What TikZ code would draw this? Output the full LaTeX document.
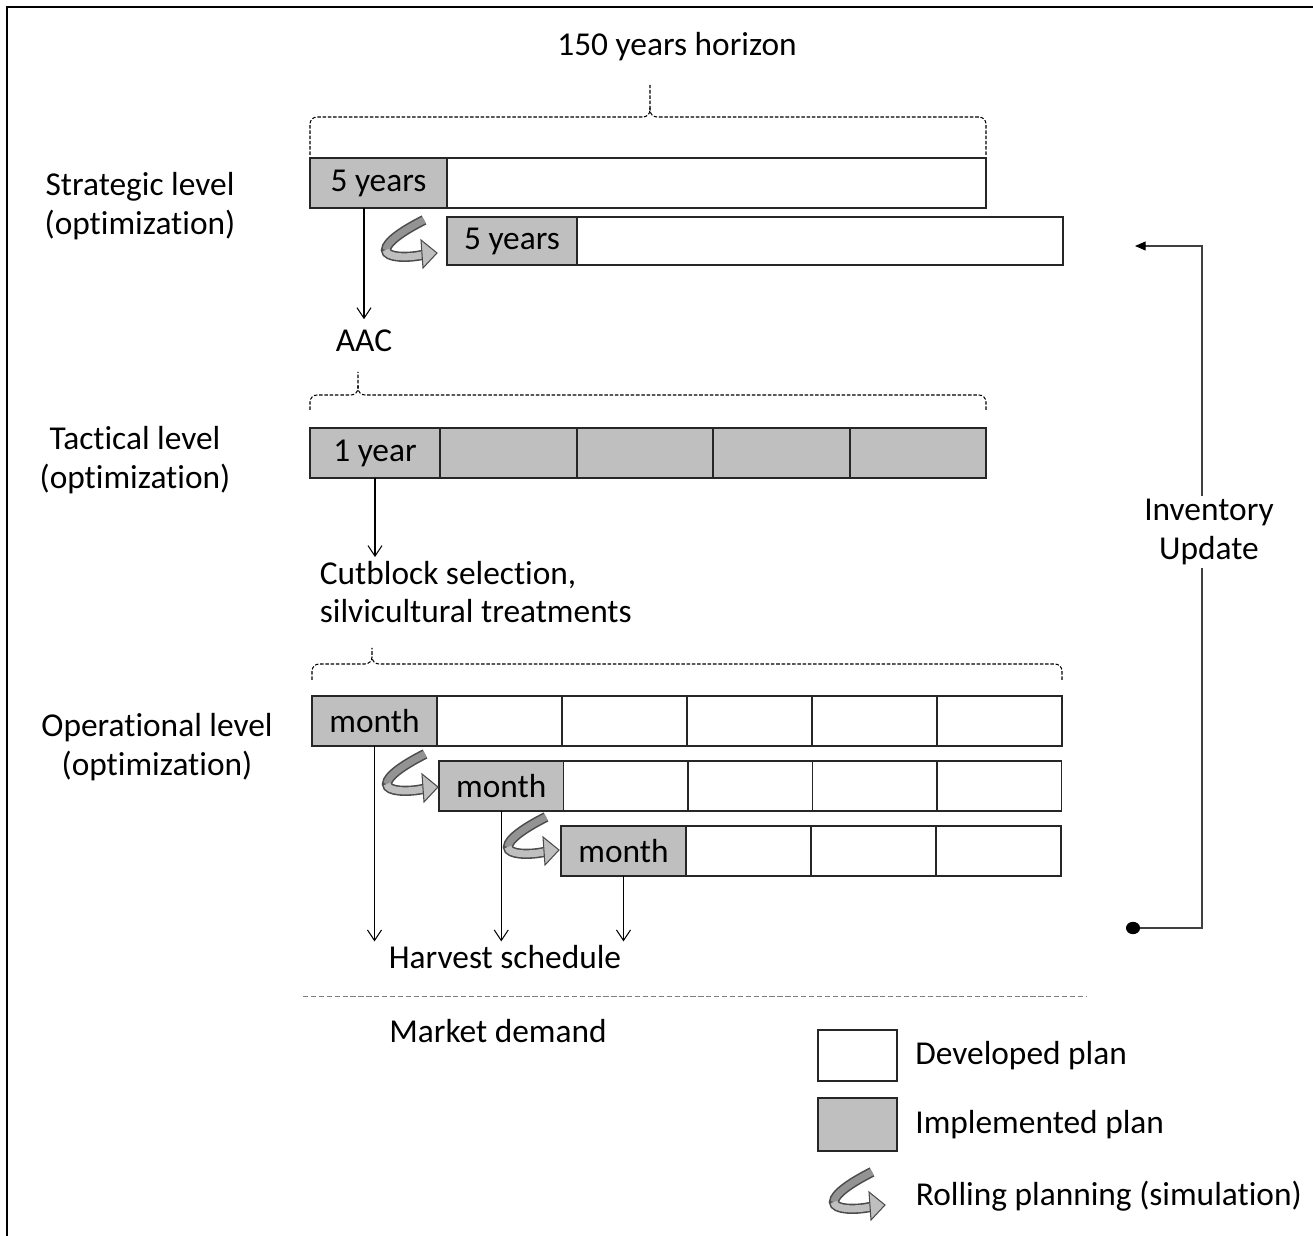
\documentclass[tikz,border=0pt]{standalone}
\usepackage{fontspec}
\setmainfont{Carlito}[Ligatures=NoCommon]
\usetikzlibrary{positioning,arrows.meta}

\begin{document}
\begin{tikzpicture}[
    x=0.02cm, y=-0.02cm,
    font=\fontsize{19}{22}\selectfont,
    node distance=0pt,
    cell/.style={
      rectangle, draw=black!85, line width=0.9pt, outer sep=0pt,
      minimum height=1cm, inner sep=0pt, fill=white
    },
    impl/.style={cell, fill=gray!50},
    lbl/.style={inner sep=2pt, align=center},
    arr/.style={-{Straight Barb[length=6pt,width=8pt]}, line width=0.6pt},
    brace/.style={dash pattern=on 2pt off 1pt, rounded corners=4pt, line width=0.6pt},
    rollarrow/.pic={
      \draw[line width=5.8pt, black!70] (16,-24) .. controls (-4,-14) and (-22,-2) .. (-22,6)
        .. controls (-22,14) and (0,14) .. (14,11);
      \draw[line width=4pt, gray!85] (16,-24) .. controls (-4,-14) and (-22,-2) .. (-22,6);
      \draw[line width=4pt, gray!50] (-22,6) .. controls (-22,14) and (0,14) .. (14,11);
      \filldraw[fill=gray!50, draw=black!70, line width=0.6pt] (13,-4) -- (29,9) -- (15,24) -- cycle;
    }
  ]
  \useasboundingbox (0,0) rectangle (1313,1236);
  \draw[line width=1.1pt] (7,1236) -- (7,7) -- (1313,7);

  % Strategic level
  \node[impl, minimum width=2.74cm, anchor=north west] (s1a) at (310,158) {5 years};
  \node[cell, minimum width=10.78cm, right=of s1a] (s1b) {};
  \node[impl, minimum width=2.6cm, minimum height=0.96cm, anchor=north west] (s2a) at (447,217) {5 years};
  \node[cell, minimum width=9.72cm, minimum height=0.96cm, right=of s2a] (s2b) {};
  \pic at (408,244) {rollarrow};

  % Tactical level
  \node[impl, minimum width=2.6cm, anchor=north west] (t1) at (310,428) {1 year};
  \node[impl, minimum width=2.74cm, right=of t1] (t2) {};
  \node[impl, minimum width=2.72cm, right=of t2] (t3) {};
  \node[impl, minimum width=2.74cm, right=of t3] (t4) {};
  \node[impl, minimum width=2.72cm, right=of t4] (t5) {};

  % Operational level, row 1
  \node[impl, minimum width=2.5cm, anchor=north west] (o1a) at (312,696) {month};
  \node[cell, minimum width=2.5cm, right=of o1a] (o1b) {};
  \node[cell, minimum width=2.5cm, right=of o1b] (o1c) {};
  \node[cell, minimum width=2.5cm, right=of o1c] (o1d) {};
  \node[cell, minimum width=2.5cm, right=of o1d] (o1e) {};
  \node[cell, minimum width=2.5cm, right=of o1e] (o1f) {};

  % Operational level, row 2
  \node[impl, minimum width=2.49cm, anchor=north west] (o2a) at (439,761) {month};
  \node[cell, minimum width=2.49cm, right=of o2a] (o2b) {};
  \node[cell, minimum width=2.49cm, right=of o2b] (o2c) {};
  \node[cell, minimum width=2.49cm, right=of o2c] (o2d) {};
  \node[cell, minimum width=2.49cm, right=of o2d] (o2e) {};
  \pic at (409,778) {rollarrow};

  % Operational level, row 3
  \node[impl, minimum width=2.5cm, anchor=north west] (o3a) at (561,826) {month};
  \node[cell, minimum width=2.5cm, right=of o3a] (o3b) {};
  \node[cell, minimum width=2.5cm, right=of o3b] (o3c) {};
  \node[cell, minimum width=2.5cm, right=of o3c] (o3d) {};
  \pic at (530,841) {rollarrow};

  % Labels
  \node[lbl] (horizon) at (677,47) {150 years horizon};
  \node[lbl] (strat) at (140,206) {Strategic level\\(optimization)};
  \node[lbl] (tact) at (135,460) {Tactical level\\(optimization)};
  \node[lbl] (oper) at (157,747) {Operational level\\(optimization)};
  \node[lbl] (aac) at (364,341) {AAC};
  \node[lbl, align=left, anchor=west] (cut) at (316,592) {Cutblock selection,\\silvicultural treatments};
  \node[lbl] (harvest) at (505,957) {Harvest schedule};
  \node[lbl] (market) at (498,1031) {Market demand};

  % Braces
  \draw[brace] (310,155) |- (650,117) -- (650,85);
  \draw[brace] (986,155) |- (650,117) -- (650,108);
  \draw[brace] (310,410) |- (358,395) -- (358,372);
  \draw[brace] (986,410) |- (358,395) -- (358,386);
  \draw[brace] (312,680) |- (372,664) -- (372,648);
  \draw[brace] (1062,680) |- (372,664) -- (372,657);

  % Arrows
  \draw[arr] (s1a.south -| aac) -- ([yshift=4pt]aac.north);
  \draw[arr] (t1.south) -- (t1.south |- cut.north);
  \draw[arr] (o1a.south) -- (o1a.south |- harvest.north);
  \draw[arr] (o2a.south) -- (o2a.south |- harvest.north);
  \draw[arr] (o3a.south) -- (o3a.south |- harvest.north);

  % Separator
  \draw[black!50, dash pattern=on 3pt off 1.5pt] (303,996) -- (1087,996);

  % Inventory update loop
  \coordinate (invsrc) at (1126,928);
  \coordinate (invdst) at (1135,246);
  \draw[black!75, line width=0.6pt, {Circle[length=8pt,width=7pt,black]}-{Triangle[length=6pt,width=5pt,black]}]
    (invsrc) -- (1202,928) -- (1202,246) -- (invdst);
  \node[lbl, fill=white] (invlbl) at (1209,532) {Inventory\\Update};

  % Legend
  \node[cell, minimum width=1.58cm, minimum height=1.02cm, anchor=north west] (legdev) at (818,1030) {};
  \node[lbl, right=0.29cm of legdev] (legdevtxt) {Developed plan};
  \node[impl, minimum width=1.58cm, minimum height=1.06cm, anchor=north west] (legimp) at (818,1098) {};
  \node[lbl, right=0.29cm of legimp] (legimptxt) {Implemented plan};
  \pic at (856,1196) {rollarrow};
  \node[lbl, anchor=west] (legroll) at (912,1196) {Rolling planning (simulation)};
\end{tikzpicture}
\end{document}
